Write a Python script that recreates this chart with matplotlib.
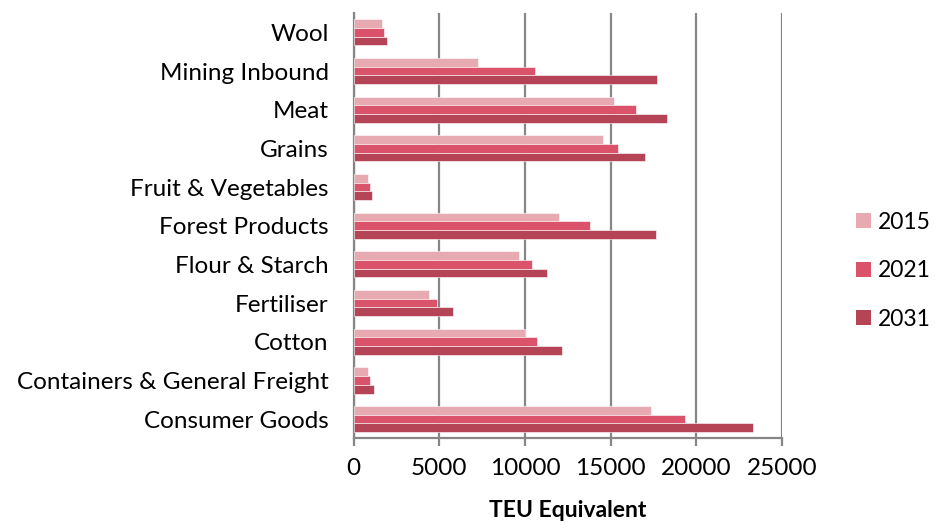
import numpy as np
import matplotlib.pyplot as plt
from matplotlib.patches import Patch

plt.rcParams['font.family'] = ['Lato', 'DejaVu Sans']

categories = ['Consumer Goods', 'Containers & General Freight', 'Cotton', 'Fertiliser',
              'Flour & Starch', 'Forest Products', 'Fruit & Vegetables', 'Grains',
              'Meat', 'Mining Inbound', 'Wool']
teu_2015 = [17380, 840, 10030, 4380, 9650, 11990, 840, 14560, 15220, 7260, 1640]
teu_2021 = [19330, 970, 10730, 4870, 10400, 13780, 930, 15440, 16490, 10590, 1770]
teu_2031 = [23300, 1210, 12150, 5800, 11290, 17640, 1050, 17010, 18280, 17700, 1930]
years = ['2015', '2021', '2031']
colors = ['#E8AAB1', '#DA536B', '#B44456']

fig = plt.figure(figsize=(9.35, 5.26), dpi=100)
ax = fig.add_axes([0.3783, 0.1664, 0.4578, 0.8089])

y = np.arange(len(categories))
h = 0.225
for i, (vals, c) in enumerate(zip([teu_2015, teu_2021, teu_2031], colors)):
    # 2015 sits on top of each group, 2031 at the bottom
    ax.barh(y + (1 - i) * h, vals, height=h, color=c, edgecolor='white',
            linewidth=0.4, zorder=3)

ax.set_xlim(0, 25000)
ax.set_ylim(-0.5, len(categories) - 0.5)
ax.set_xticks(np.arange(0, 25001, 5000))
ax.set_yticks(y)
ax.set_yticklabels(categories)
ax.xaxis.grid(True, color='#868686', linewidth=1.6, zorder=0)
for s in ['top', 'right']:
    ax.spines[s].set_visible(False)
for s in ['left', 'bottom']:
    ax.spines[s].set_color('#868686')
    ax.spines[s].set_linewidth(1.6)
ax.tick_params(axis='y', length=0, pad=18, labelsize=17.5)
ax.tick_params(axis='x', length=6, width=1.6, color='#868686', pad=8, labelsize=17.5)
ax.set_xlabel('TEU Equivalent', fontsize=16.5, fontweight='bold', labelpad=15)

handles = [Patch(facecolor=c, label=yr) for c, yr in zip(colors, years)]
fig.legend(handles=handles, loc='center left', bbox_to_anchor=(0.916, 0.485),
           frameon=False, fontsize=16.5, handlelength=0.65, handleheight=0.65,
           handletextpad=0.3, labelspacing=1.2, borderaxespad=0, borderpad=0)

fig.savefig('out.png', dpi=100)
